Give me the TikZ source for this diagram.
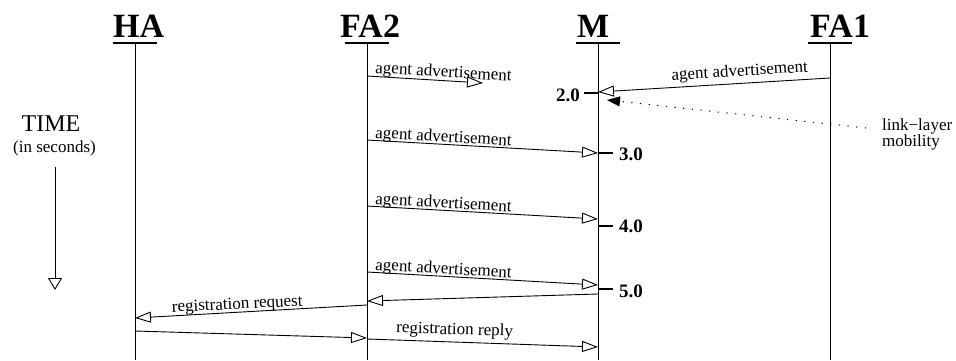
\documentclass[tikz,border=0pt]{standalone}
\usepackage{fontspec}
\setmainfont{Liberation Serif}
\usetikzlibrary{arrows.meta}

\begin{document}
\begin{tikzpicture}[x=1pt,y=-1pt,
  head/.style={font=\fontsize{34}{34}\selectfont\bfseries, anchor=base west, inner sep=0pt},
  life/.style={line width=1pt},
  uline/.style={line width=1.1pt},
  msg/.style={line width=0.9pt, -{Triangle[open,length=16pt,width=11pt,line width=0.9pt]}},
  lbl/.style={font=\fontsize{17}{17}\selectfont, inner sep=0pt},
  tickmark/.style={line width=2.8pt},
  ticklbl/.style={font=\fontsize{19}{19}\selectfont\bfseries, inner sep=0pt},
]
\useasboundingbox (0,0) rectangle (956,360);

% lifeline headers
\node[head] (ha)  at (113,37) {HA};
\node[head] (fa2) at (340,37) {FA2};
\node[head] (m)   at (577,37) {M};
\node[head] (fa1) at (810,37) {FA1};

% lifelines with their underlines
\foreach \n/\x in {ha/135, fa2/367, m/598, fa1/830} {
  \coordinate (\n top) at (\x,43);
  \coordinate (\n bot) at (\x,360);
  \coordinate (\n ul) at (\x-22,43);
  \coordinate (\n ur) at (\x+22,43);
  \draw[uline] (\n ul) -- (\n ur);
  \draw[life] (\n top) -- (\n bot);
}

% time axis
\node[font=\fontsize{24}{24}\selectfont, anchor=base, inner sep=0pt] (time) at (51,131) {TIME};
\node[font=\fontsize{17}{17}\selectfont, anchor=base, inner sep=0pt] (unit) at (54.5,152) {(in seconds)};
\coordinate (t0) at (55,167);
\coordinate (t1) at (55,290);
\draw[line width=0.9pt, -{Triangle[open,length=12pt,width=14pt,line width=0.9pt]}] (t0) -- (t1);

% message end points
\coordinate (a1s) at (367,76);  \coordinate (a1e) at (483,83);
\coordinate (b1s) at (830,78);  \coordinate (b1e) at (598,92);
\coordinate (a2s) at (367,140); \coordinate (a2e) at (598,153);
\coordinate (a3s) at (367,206); \coordinate (a3e) at (598,219);
\coordinate (a4s) at (367,272); \coordinate (a4e) at (598,285);
\coordinate (r1s) at (598,294); \coordinate (r1e) at (367,301);
\coordinate (r2s) at (367,305); \coordinate (r2e) at (135,318);
\coordinate (p1s) at (135,331); \coordinate (p1e) at (367,338);
\coordinate (p2s) at (367,339); \coordinate (p2e) at (598,347);

% agent advertisements
\draw[msg] (a1s) -- (a1e);
\node[lbl, anchor=base west, rotate=-3.4] (la1) at (375,73) {agent advertisement};
\draw[msg] (b1s) -- (b1e);
\node[lbl, anchor=base, rotate=3.4] (lb1) at (740,76) {agent advertisement};
\draw[msg] (a2s) -- (a2e);
\node[lbl, anchor=base west, rotate=-3.3] (la2) at (375,138) {agent advertisement};
\draw[msg] (a3s) -- (a3e);
\node[lbl, anchor=base west, rotate=-3.3] (la3) at (375,204) {agent advertisement};
\draw[msg] (a4s) -- (a4e);
\node[lbl, anchor=base west, rotate=-3.3] (la4) at (375,270) {agent advertisement};

% registration
\draw[msg] (r1s) -- (r1e);
\draw[msg] (r2s) -- (r2e);
\node[lbl, anchor=base, rotate=2.8] (lr2) at (237.5,309) {registration request};
\draw[msg] (p1s) -- (p1e);
\draw[msg] (p2s) -- (p2e);
\node[lbl, anchor=base, rotate=-1.8] (lp2) at (454.5,334.5) {registration reply};

% time ticks on M
\coordinate (k2a) at (584,93);  \coordinate (k2b) at (598,93);
\coordinate (k3a) at (598,153); \coordinate (k3b) at (613,153);
\coordinate (k4a) at (598,226); \coordinate (k4b) at (613,226);
\coordinate (k5a) at (598,289); \coordinate (k5b) at (613,289);
\draw[tickmark] (k2a) -- (k2b);
\draw[tickmark] (k3a) -- (k3b);
\draw[tickmark] (k4a) -- (k4b);
\draw[tickmark] (k5a) -- (k5b);
\node[ticklbl, anchor=base east] (t2) at (580,101) {2.0};
\node[ticklbl, anchor=base west] (t3) at (619,160) {3.0};
\node[ticklbl, anchor=base west] (t4) at (619,232) {4.0};
\node[ticklbl, anchor=base west] (t5) at (619,297) {5.0};

% link-layer mobility hint
\node[lbl, anchor=north west, align=left, font=\fontsize{17}{15}\selectfont] (ll) at (882,118) {link−layer\\mobility};
\coordinate (d0) at (866,128);
\coordinate (d1) at (607,100);
\draw[line width=1pt, dash pattern=on 1.2pt off 7.5pt, -{Triangle[length=13pt,width=10pt]}] (d0) -- (d1);
\end{tikzpicture}
\end{document}
